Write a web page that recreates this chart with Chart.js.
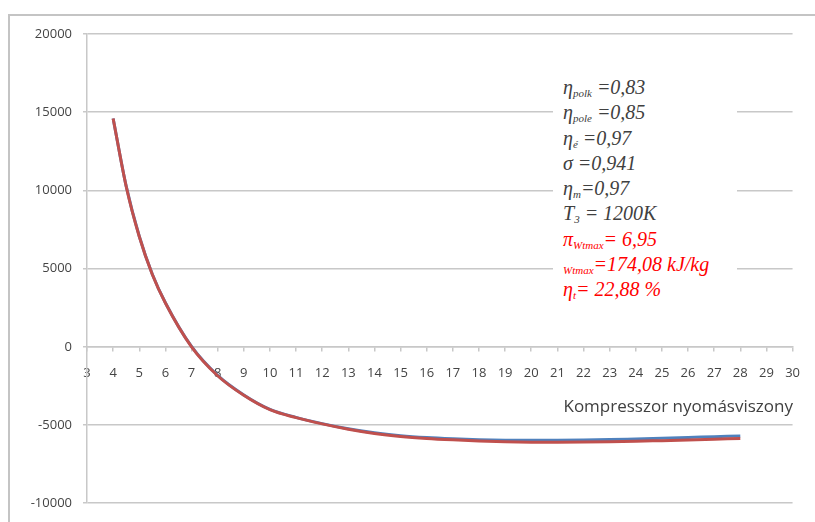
<!DOCTYPE html>
<html>
<head>
<meta charset="utf-8">
<script src="https://cdn.jsdelivr.net/npm/chart.js@4.4.1/dist/chart.umd.min.js"></script>
<style>
   html, body { margin: 0; padding: 0; background: #fff; }
   #wrap { position: relative; width: 815px; height: 522px; overflow: hidden; }
   #frame { position: absolute; left: 8px; top: 14px; width: 900px; height: 600px;
            border-left: 2px solid #c4c4c4; border-top: 2px solid #c4c4c4; }
   canvas { position: absolute; left: 0; top: 0; }
   #note { position: absolute; left: 553px; top: 75px; width: 184px; background: #fff;
           font-family: 'Liberation Serif', 'Times New Roman', serif; font-style: italic;
           font-size: 20px; color: #404040; padding-left: 10px; box-sizing: border-box; }
   #note div { height: 25.3px; line-height: 25.3px; white-space: nowrap; }
   #note sub { font-size: 11px; vertical-align: -3px; line-height: 0; }
   #note .red { color: #ff0000; }
   #xtitle { position: absolute; right: 22px; top: 396px; line-height: 20px;
             font-family: 'Open Sans', sans-serif; font-size: 17px; color: #404040; white-space: nowrap; }
</style>
</head>
<body>
<div id="wrap">
   <div id="frame"></div>
   <canvas id="chart" width="815" height="522"></canvas>
   <div id="note">
      <div>η<sub>polk</sub> =0,83</div>
      <div>η<sub>pole</sub> =0,85</div>
      <div>η<sub>é</sub> =0,97</div>
      <div>σ =0,941</div>
      <div>η<sub>m</sub>=0,97</div>
      <div>T<sub>3</sub> = 1200K</div>
      <div class="red">π<sub>Wtmax</sub>= 6,95</div>
      <div class="red"><sub>Wtmax</sub>=174,08 kJ/kg</div>
      <div class="red">η<sub>t</sub>= 22,88 %</div>
   </div>
   <div id="xtitle">Kompresszor nyomásviszony</div>
</div>
<script>
// kompresszor nyomasviszony (x)
const pressureRatio = [4, 4.5, 5, 5.5, 6, 7, 8, 9, 10, 11, 12, 13, 14, 15, 16, 17, 18, 19, 20, 21, 22, 23, 24, 25, 26, 27, 28];

// two nearly identical curves
const seriesBlue = [14600, 10270, 7070, 4640, 2820, 20, -1830, -3080, -4000, -4510, -4910, -5240, -5500, -5680, -5800, -5880, -5940, -5970, -5980, -5975, -5960, -5930, -5890, -5850, -5800, -5750, -5700];
const seriesRed = [14600, 10250, 7050, 4620, 2800, 0, -1850, -3100, -4020, -4530, -4930, -5270, -5540, -5730, -5860, -5950, -6020, -6070, -6095, -6100, -6090, -6070, -6040, -6000, -5960, -5910, -5860];

const xMin = 3, xMax = 30, xStep = 1;
const yMin = -10000, yMax = 20000, yStep = 5000;

const gridColor = '#c8c8c8';
const labelColor = '#444444';

function toPoints(values) {
   return pressureRatio.map((x, i) => ({ x: x, y: values[i] }));
}

new Chart(document.getElementById('chart'), {
   type: 'line',
   data: {
      datasets: [{
         data: toPoints(seriesRed),
         borderColor: '#c0504d',
         borderWidth: 3,
         order: 0
      }, {
         data: toPoints(seriesBlue),
         borderColor: '#4f81bd',
         borderWidth: 3,
         order: 1
      }]
   },
   options: {
      responsive: false,
      animation: false,
      events: [],
      radius: 0,
      cubicInterpolationMode: 'monotone',
      layout: {
         padding: { left: 0, top: 34, right: 13, bottom: 12 }
      },
      plugins: {
         legend: { display: false },
         tooltip: { enabled: false }
      },
      scales: {
         x: {
            type: 'linear',
            position: { y: 0 },
            min: xMin,
            max: xMax,
            afterFit: (scale) => { scale.height = 0; },
            grid: {
               drawOnChartArea: false,
               drawTicks: true,
               tickLength: 4,
               color: gridColor,
               lineWidth: 1.5
            },
            border: { display: true, color: gridColor, width: 1.5 },
            ticks: {
               stepSize: xStep,
               autoSkip: false,
               maxRotation: 0,
               padding: 15,
               color: labelColor,
               font: { family: "'Open Sans', sans-serif", size: 13 }
            }
         },
         y: {
            min: yMin,
            max: yMax,
            afterFit: (scale) => { scale.width = 87; },
            grid: {
               tickLength: 4,
               color: gridColor,
               lineWidth: 1.5
            },
            border: { display: true, color: gridColor, width: 1.5 },
            ticks: {
               stepSize: yStep,
               padding: 11,
               color: labelColor,
               font: { family: "'Open Sans', sans-serif", size: 13 },
               callback: (value) => String(value)
            }
         }
      }
   }
});
</script>
</body>
</html>
